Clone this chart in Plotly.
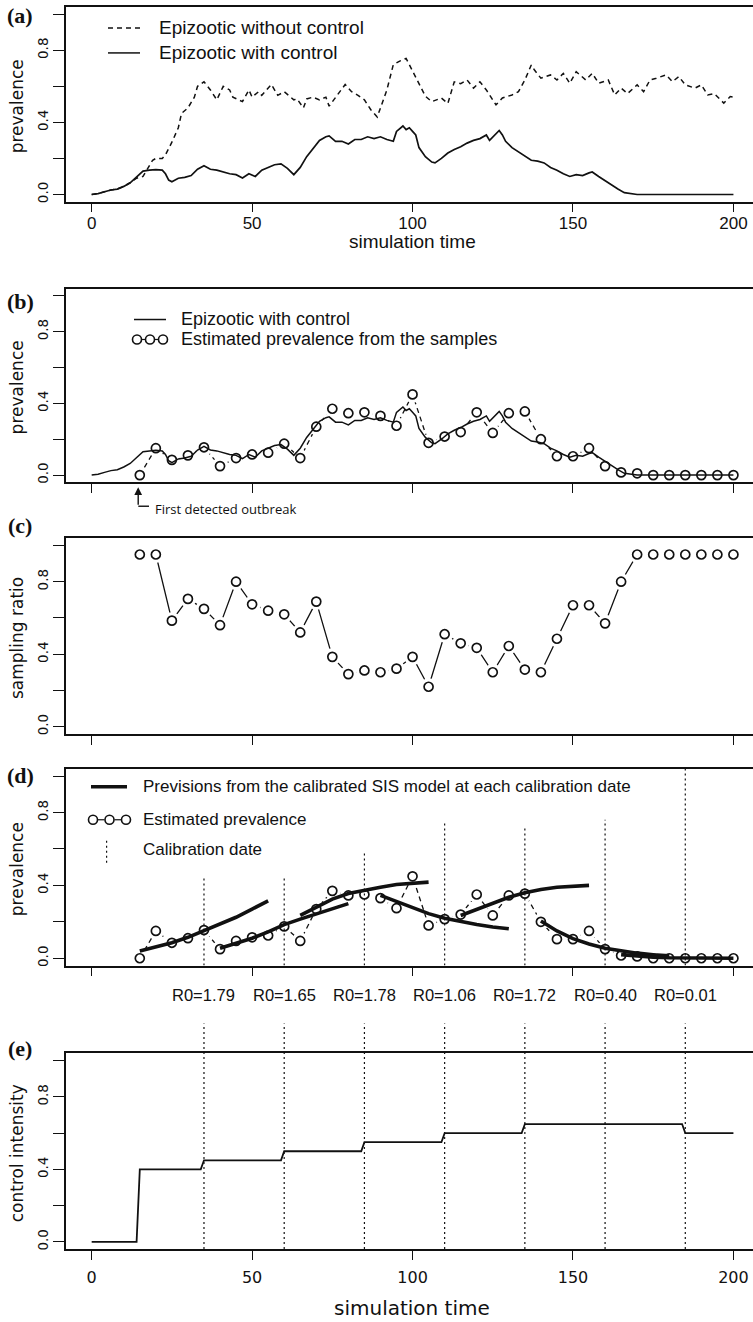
import plotly.graph_objects as go

W, H = 753, 1322
ML = 66  # left margin in px (plot areas run to the right edge)

X_RANGE = [-8, 206.1]
Y_RANGE = [-0.04, 1.04]
X_TICKS = [0, 50, 100, 150, 200]
Y_TICKS = [0.0, 0.2, 0.4, 0.6, 0.8, 1.0]
Y_TICKTEXT = ["0.0", "", "0.4", "", "0.8", ""]

# ---------------- data ----------------
# (a) epizootic without control
nc_t = [0, 2, 4, 6, 8, 10, 12, 14, 16, 17, 19, 20, 22, 23, 25, 27, 28, 30, 32, 33,
        35, 37, 39, 41, 43, 44, 47, 49, 50, 52, 53, 56, 58, 60, 63, 64, 66, 67, 69, 71,
        73, 74, 76, 77, 79, 81, 83, 85, 87, 89, 90, 92, 94, 96, 98, 99, 100, 102, 104, 106,
        109, 111, 113, 115, 117, 119, 121, 123, 125, 126, 128, 131, 133, 135, 137, 138, 140, 143, 145, 147,
        149, 151, 154, 156, 158, 161, 163, 165, 167, 170, 172, 174, 176, 179, 181, 183, 185, 188, 190, 192,
        194, 197, 199, 200]
nc_v = [0.0, 0.005, 0.015, 0.025, 0.03, 0.045, 0.065, 0.09, 0.10, 0.13, 0.19, 0.20, 0.20, 0.22, 0.29, 0.37, 0.45, 0.48, 0.54, 0.60,
        0.625, 0.58, 0.525, 0.60, 0.58, 0.54, 0.515, 0.58, 0.54, 0.57, 0.55, 0.61, 0.55, 0.57, 0.525, 0.53, 0.48, 0.53, 0.54, 0.525,
        0.54, 0.49, 0.54, 0.56, 0.61, 0.57, 0.55, 0.525, 0.47, 0.43, 0.48, 0.58, 0.72, 0.74, 0.755, 0.72, 0.69, 0.62, 0.545, 0.515,
        0.535, 0.505, 0.625, 0.615, 0.635, 0.59, 0.625, 0.58, 0.52, 0.497, 0.535, 0.552, 0.57, 0.635, 0.718, 0.69, 0.645, 0.663, 0.635, 0.672,
        0.617, 0.681, 0.635, 0.672, 0.617, 0.635, 0.552, 0.59, 0.56, 0.608, 0.57, 0.635, 0.645, 0.663, 0.626, 0.654, 0.608, 0.59, 0.608, 0.552,
        0.56, 0.507, 0.543, 0.54]

# (a)/(b) epizootic with control
ctrl_t = [0, 2, 4, 6, 8, 10, 12, 14, 16, 18, 20, 22, 23, 24, 25, 27, 29, 31, 33, 35,
          37, 39, 41, 43, 45, 47, 49, 51, 53, 55, 57, 59, 61, 63, 65, 67, 69, 71, 73, 74,
          76, 78, 80, 82, 84, 86, 88, 90, 92, 94, 95, 97, 98, 99, 100, 101, 102, 104, 106, 107,
          109, 111, 113, 115, 117, 119, 121, 123, 124, 126, 127, 128, 129, 131, 133, 135, 137, 139, 141, 143,
          145, 147, 149, 151, 153, 155, 156, 158, 160, 162, 164, 166, 168, 170, 200]
ctrl_v = [0.0, 0.005, 0.015, 0.025, 0.03, 0.045, 0.065, 0.10, 0.13, 0.135, 0.138, 0.135, 0.115, 0.08, 0.07, 0.09, 0.095, 0.105, 0.14, 0.16,
          0.14, 0.135, 0.125, 0.115, 0.11, 0.092, 0.115, 0.10, 0.135, 0.15, 0.165, 0.17, 0.145, 0.11, 0.15, 0.21, 0.255, 0.30, 0.32, 0.325,
          0.295, 0.295, 0.28, 0.305, 0.305, 0.32, 0.31, 0.32, 0.305, 0.295, 0.35, 0.38, 0.36, 0.37, 0.35, 0.33, 0.26, 0.21, 0.18, 0.175,
          0.20, 0.23, 0.25, 0.265, 0.285, 0.30, 0.31, 0.33, 0.30, 0.34, 0.355, 0.33, 0.295, 0.26, 0.235, 0.21, 0.19, 0.185, 0.175, 0.15,
          0.135, 0.115, 0.10, 0.11, 0.105, 0.12, 0.125, 0.10, 0.075, 0.055, 0.03, 0.01, 0.005, 0.0, 0.0]

# sampling dates
sample_t = [15, 20, 25, 30, 35, 40, 45, 50, 55, 60, 65, 70, 75, 80, 85, 90, 95, 100, 105,
            110, 115, 120, 125, 130, 135, 140, 145, 150, 155, 160, 165, 170, 175, 180, 185, 190, 195, 200]
# (b)/(d) estimated prevalence from the samples
est_prev = [0.00, 0.15, 0.085, 0.11, 0.155, 0.05, 0.095, 0.115, 0.125, 0.175, 0.095, 0.27, 0.37, 0.345, 0.35, 0.33, 0.275, 0.45, 0.18,
            0.215, 0.24, 0.35, 0.235, 0.345, 0.355, 0.20, 0.105, 0.105, 0.15, 0.05, 0.015, 0.01, 0.0, 0.0, 0.0, 0.0, 0.0, 0.0]
# (c) sampling ratio
samp_ratio = [0.95, 0.95, 0.585, 0.705, 0.65, 0.56, 0.80, 0.675, 0.64, 0.62, 0.52, 0.69, 0.385, 0.29, 0.31, 0.30, 0.32, 0.385, 0.22,
              0.51, 0.46, 0.435, 0.30, 0.445, 0.315, 0.30, 0.485, 0.67, 0.67, 0.57, 0.80, 0.95, 0.95, 0.95, 0.95, 0.95, 0.95, 0.95]

# (d) SIS model previsions, one run per calibration date
fc_t = [
    [15, 20, 25, 30, 35, 40, 45, 50, 55],
    [40, 45, 50, 55, 60, 65, 70, 75, 80],
    [65, 70, 75, 80, 85, 90, 95, 100, 105],
    [90, 95, 100, 105, 110, 115, 120, 125, 130],
    [115, 120, 125, 130, 135, 140, 145, 150, 155],
    [140, 145, 150, 155, 160, 165, 170, 175, 180],
    [165, 170, 175, 180, 185, 190, 195, 200],
]
fc_v = [
    [0.04, 0.06, 0.085, 0.115, 0.15, 0.185, 0.225, 0.27, 0.315],
    [0.055, 0.08, 0.11, 0.145, 0.185, 0.215, 0.245, 0.275, 0.30],
    [0.235, 0.28, 0.325, 0.355, 0.375, 0.39, 0.405, 0.413, 0.418],
    [0.345, 0.31, 0.275, 0.245, 0.22, 0.20, 0.185, 0.172, 0.162],
    [0.235, 0.27, 0.305, 0.335, 0.36, 0.378, 0.39, 0.397, 0.40],
    [0.205, 0.15, 0.108, 0.078, 0.055, 0.04, 0.028, 0.019, 0.013],
    [0.02, 0.012, 0.006, 0.003, 0.001, 0.0, 0.0, 0.0],
]

calib_dates = [35, 60, 85, 110, 135, 160, 185]
calib_top = [0.45, 0.45, 0.59, 0.74, 0.72, 0.76, 1.04]
r0_labels = ["R0=1.79", "R0=1.65", "R0=1.78", "R0=1.06", "R0=1.72", "R0=0.40", "R0=0.01"]

# (e) control intensity (step changes)
ci_t = [0, 14, 15, 34, 35, 59, 60, 84, 85, 109, 110, 134, 135, 184, 185, 200]
ci_v = [0.0, 0.0, 0.40, 0.40, 0.45, 0.45, 0.50, 0.50, 0.55, 0.55, 0.60, 0.60, 0.65, 0.65, 0.60, 0.60]

# ---------------- layout helpers ----------------
# plot boxes (top px, bottom px)
BOX = {1: (7, 202), 2: (289, 483), 3: (539, 735), 4: (770, 967), 5: (1055, 1251)}


def fx(px):
    return (px - ML) / (W - ML)


def fy(py):
    return 1 - py / H


ARIAL = "Liberation Sans, Arial, sans-serif"
DEJAVU = "DejaVu Sans, sans-serif"
SERIF = "Liberation Serif, Times New Roman, serif"
INK = "#111111"

fig = go.Figure()


def ax(n):
    return ("x" if n == 1 else f"x{n}"), ("y" if n == 1 else f"y{n}")


def line_trace(n, x, y, width=1.6, dash="solid"):
    xa, ya = ax(n)
    fig.add_trace(go.Scatter(x=x, y=y, mode="lines", xaxis=xa, yaxis=ya,
                             line=dict(color=INK, width=width, dash=dash), hoverinfo="skip"))


def points_b(n, x, y, dash):
    """R type='b' look: connecting segments, gaps, then open circles later."""
    xa, ya = ax(n)
    fig.add_trace(go.Scatter(x=x, y=y, mode="lines", xaxis=xa, yaxis=ya,
                             line=dict(color=INK, width=1.3, dash=dash), hoverinfo="skip"))
    fig.add_trace(go.Scatter(x=x, y=y, mode="markers", xaxis=xa, yaxis=ya,
                             marker=dict(symbol="circle", size=17, color="white", line=dict(width=0)),
                             hoverinfo="skip"))


def circles(n, x, y):
    xa, ya = ax(n)
    fig.add_trace(go.Scatter(x=x, y=y, mode="markers", xaxis=xa, yaxis=ya,
                             marker=dict(symbol="circle-open", size=9, color=INK, line=dict(width=1.7, color=INK)),
                             hoverinfo="skip"))


# (a)
line_trace(1, nc_t, nc_v, 1.5, "5px,4px")
line_trace(1, ctrl_t, ctrl_v, 1.7)
# (b)
points_b(2, sample_t, est_prev, "5px,4px")
line_trace(2, ctrl_t, ctrl_v, 1.5)
circles(2, sample_t, est_prev)
# (c)
points_b(3, sample_t, samp_ratio, "solid")
circles(3, sample_t, samp_ratio)
# (d)
points_b(4, sample_t, est_prev, "5px,4px")
for ft, fv in zip(fc_t, fc_v):
    line_trace(4, ft, fv, 3.6)
circles(4, sample_t, est_prev)
# (e)
line_trace(5, ci_t, ci_v, 1.8)

# ---------------- axes ----------------
layout = dict(
    width=W, height=H, margin=dict(l=ML, r=0, t=0, b=0),
    paper_bgcolor="white", plot_bgcolor="white", showlegend=False,
)
for n in range(1, 6):
    top, bot = BOX[n]
    xa, ya = ax(n)
    xkey = "xaxis" if n == 1 else f"xaxis{n}"
    ykey = "yaxis" if n == 1 else f"yaxis{n}"
    labelled = n in (1, 5)
    layout[xkey] = dict(
        domain=[0, 1], range=X_RANGE, anchor=ya, showgrid=False, zeroline=False,
        showline=True, mirror=True, linecolor=INK, linewidth=1.6,
        ticks="outside", ticklen=9, tickwidth=1.4, tickcolor=INK,
        tickvals=X_TICKS, showticklabels=labelled,
        ticklabelstandoff=-4 if n == 1 else 4,
        tickfont=dict(family=ARIAL if n == 1 else DEJAVU, size=17 if n == 1 else 16, color=INK),
    )
    layout[ykey] = dict(
        domain=[fy(bot), fy(top)], range=Y_RANGE, anchor=xa, showgrid=False, zeroline=False,
        showline=True, mirror=False, linecolor=INK, linewidth=1.6,
        ticks="outside", ticklen=11, tickwidth=1.4, tickcolor=INK,
        tickvals=Y_TICKS, ticktext=Y_TICKTEXT, tickangle=-90,
        tickfont=dict(family=DEJAVU, size=13.5, color=INK),
    )
fig.update_layout(**layout)

annotations = []
shapes = []


def text(px, py, s, size, family=ARIAL, xanchor="left", angle=0, bold=False):
    annotations.append(dict(
        x=fx(px), y=fy(py), xref="paper", yref="paper", text=f"<b>{s}</b>" if bold else s,
        showarrow=False, xanchor=xanchor, yanchor="middle", textangle=angle,
        font=dict(family=family, size=size, color=INK)))


def seg(px0, py0, px1, py1, width=1.5, dash="solid"):
    shapes.append(dict(type="line", xref="paper", yref="paper",
                       x0=fx(px0), y0=fy(py0), x1=fx(px1), y1=fy(py1),
                       line=dict(color=INK, width=width, dash=dash)))


def ring(px, py, r=4.5):
    shapes.append(dict(type="circle", xref="paper", yref="paper",
                       xsizemode="pixel", ysizemode="pixel", xanchor=fx(px), yanchor=fy(py),
                       x0=-r, x1=r, y0=-r, y1=r, line=dict(color=INK, width=1.6)))


def ring_key(px0, px1, py):
    mids = [px0 + 4, (px0 + px1) / 2, px1 - 4]
    seg(mids[0] + 5, py, mids[1] - 5, py, 1.2)
    seg(mids[1] + 5, py, mids[2] - 5, py, 1.2)
    for m in mids:
        ring(m, py)


# panel tags
for tag, py in zip(["(a)", "(b)", "(c)", "(d)", "(e)"], [16, 302, 526, 777, 1050]):
    text(20, py, tag, 22, SERIF, "center", bold=True)

# y titles
ytitles = ["prevalence", "prevalence", "sampling ratio", "prevalence", "control intensity"]
for n, t in zip(range(1, 6), ytitles):
    top, bot = BOX[n]
    text(17, (top + bot) / 2 + 2, t, 17, DEJAVU, "center", angle=-90)

# x titles
text(412, 242, "simulation time", 19, ARIAL, "center")
text(412, 1310, "simulation time", 20, DEJAVU, "center")

# (a) legend
seg(108, 28, 140, 28, 1.5, "5px,4px")
text(157, 28, "Epizootic without control", 19)
seg(108, 53, 140, 53, 1.5)
text(157, 53, "Epizootic with control", 19)

# (b) legend
seg(134, 320, 166, 320, 1.5)
text(179, 319, "Epizootic with control", 18)
ring_key(133, 167, 340)
text(179, 340, "Estimated prevalence from the samples", 18)

# first detected outbreak marker
annotations.append(dict(x=14.5, y=fy(488), xref="x2", yref="paper", text="", showarrow=True,
                        ax=0, ay=19, arrowhead=2, arrowsize=1.1, arrowwidth=1.4, arrowcolor=INK))
seg(138.3, 507, 149, 507, 1.4)
text(153, 510, "First detected outbreak", 13, "Open Sans, DejaVu Sans, sans-serif")

# (d) legend
seg(91, 788, 127, 788, 3.6)
text(141, 788, "Previsions from the calibrated SIS model at each calibration date", 17)
ring_key(89, 130, 821)
text(141, 821, "Estimated prevalence", 17)
seg(106.6, 842, 106.6, 867, 1.2, "2px,3px")
text(141, 851, "Calibration date", 17)

# calibration dates: dotted lines in (d) and (e), R0 labels in between
for d, top in zip(calib_dates, calib_top):
    shapes.append(dict(type="line", xref="x4", yref="y4", x0=d, x1=d, y0=Y_RANGE[0], y1=top,
                       line=dict(color=INK, width=1.2, dash="2px,3px")))
    shapes.append(dict(type="line", xref="x5", yref="paper", x0=d, x1=d, y0=fy(1251), y1=fy(1025),
                       line=dict(color=INK, width=1.2, dash="2px,3px")))
for d, lab in zip(calib_dates, r0_labels):
    annotations.append(dict(x=d, y=fy(997), xref="x4", yref="paper", text=lab, showarrow=False,
                            xanchor="center", yanchor="middle",
                            font=dict(family=ARIAL, size=16.5, color=INK)))

fig.update_layout(annotations=annotations, shapes=shapes)
fig.write_html("out.html")
